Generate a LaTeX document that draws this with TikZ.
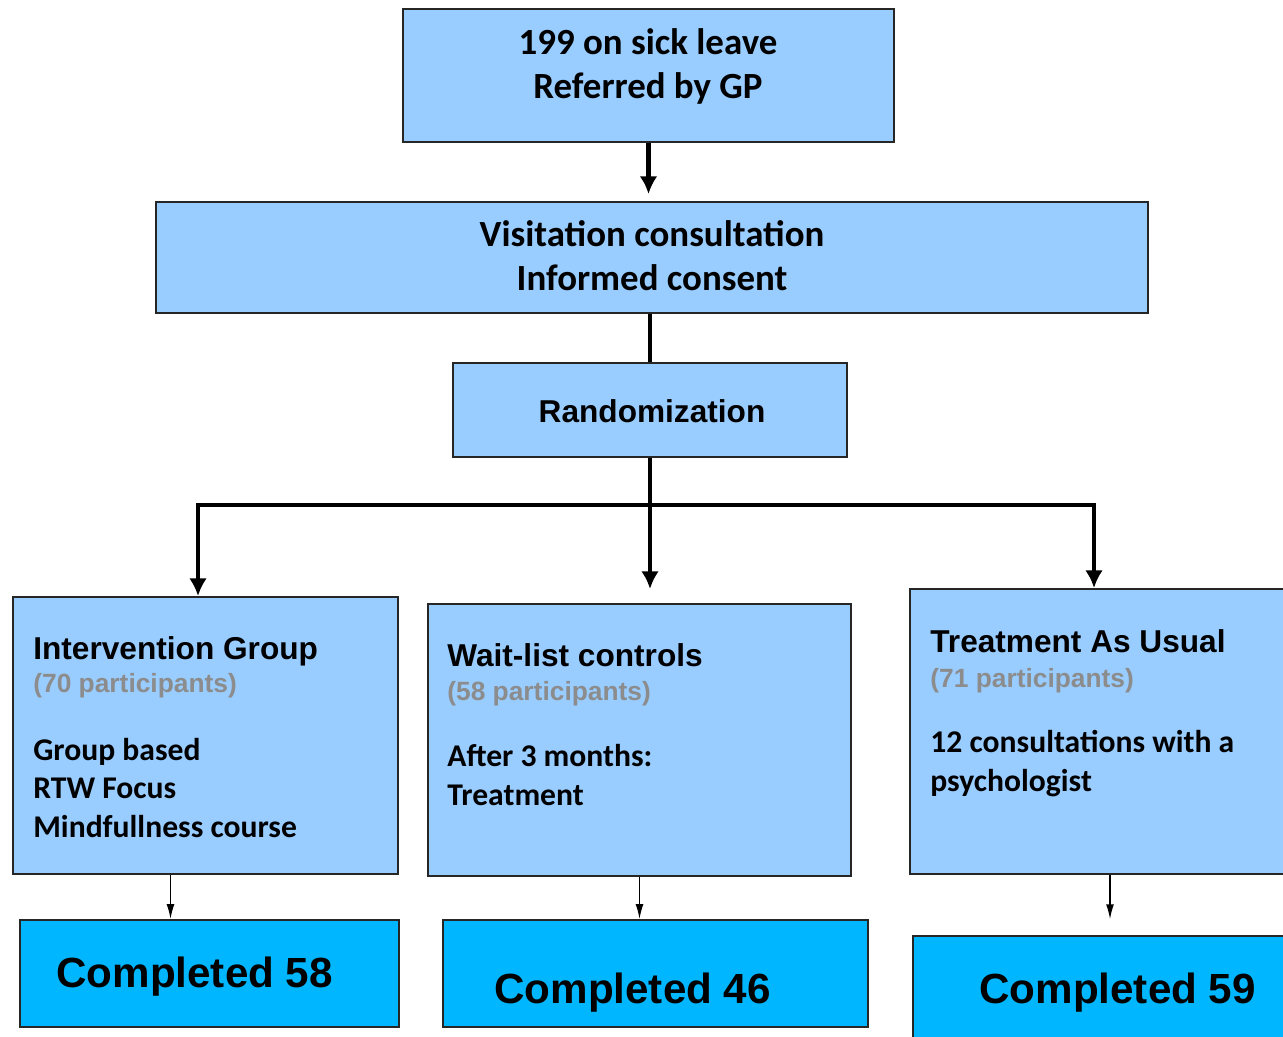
\documentclass[tikz,border=0pt]{standalone}
\usepackage{fontspec}
\setmainfont{Carlito}
\newfontfamily\arialfont{Liberation Sans}
\usetikzlibrary{positioning,fit,arrows.meta}
\definecolor{boxblue}{HTML}{99CCFF}
\definecolor{doneblue}{HTML}{00B7FF}
\definecolor{countgray}{HTML}{8C8C8C}

\begin{document}
\begin{tikzpicture}[
		x=0.02cm, y=-0.02cm,
		ar/.style={->, >={Latex[length=10pt,width=10pt]}, line width=2.3pt},
		thinar/.style={->, >={Latex[length=8.5pt,width=4.5pt]}, line width=0.8pt},
		link/.style={line width=2.3pt},
		mybox/.style={draw=black!85, line width=1.1pt, fill=boxblue, inner sep=0pt},
		donebox/.style={mybox, fill=doneblue},
		toptext/.style={inner sep=0pt, anchor=base, align=center, font=\bfseries\fontsize{21}{25}\selectfont},
		rantext/.style={inner sep=0pt, anchor=base, font=\arialfont\bfseries\fontsize{18}{21}\selectfont},
		titletext/.style={inner sep=0pt, anchor=base west, font=\arialfont\bfseries\fontsize{18}{21}\selectfont},
		counttext/.style={inner sep=0pt, anchor=base west, text=countgray, font=\arialfont\bfseries\fontsize{15}{18}\selectfont},
		bodytext/.style={inner sep=0pt, anchor=base west, align=left, font=\bfseries\fontsize{18}{21.7}\selectfont},
		donetext/.style={inner sep=0pt, anchor=base west, font=\arialfont\bfseries\fontsize{24}{28}\selectfont}
	]
		\useasboundingbox (0,0) rectangle (1283,1036);

		\node[mybox, fit={(403,9) (894,142)}] (top) {};
		\node[mybox, fit={(156,202) (1148,313)}] (vis) {};
		\node[mybox, fit={(453,363) (847,457)}] (ran) {};
		\node[mybox, fit={(13,597) (398,874)}] (ig) {};
		\node[mybox, fit={(428,604) (851,876)}] (wl) {};
		\node[mybox, fit={(910,589) (1310,874)}] (tau) {};
		\node[donebox, fit={(20,920) (399,1027)}] (ig done) {};
		\node[donebox, fit={(443,920) (868,1027)}] (wl done) {};
		\node[donebox, fit={(913,936) (1310,1060)}] (tau done) {};

		\node[toptext] (top txt) at (648,98) {199 on sick leave\\Referred by GP};
		\node[toptext] (vis txt) at (652,290) {Visitation consultation\\Informed consent};
		\node[rantext] (ran txt) at (652,422) {Randomization};

		\node[titletext] (ig title) at (33,659) {Intervention Group};
		\node[counttext] (ig count) at (33,692) {(70 participants)};
		\node[bodytext] (ig body) at (33,837) {Group based\\RTW Focus\\Mindfullness course};

		\node[titletext] (wl title) at (447,666) {Wait-list controls};
		\node[counttext] (wl count) at (447,700) {(58 participants)};
		\node[bodytext] (wl body) at (447,805) {After 3 months:\\Treatment};

		\node[titletext] (tau title) at (930,652) {Treatment As Usual};
		\node[counttext] (tau count) at (930,687) {(71 participants)};
		\node[bodytext] (tau body) at (930,791) {12 consultations with a\\psychologist};

		\node[donetext] (ig done txt) at (56,987) {Completed 58};
		\node[donetext] (wl done txt) at (494,1003) {Completed 46};
		\node[donetext] (tau done txt) at (979,1003) {Completed 59};

		\coordinate (split) at (650,505);
		\draw[ar, shorten >=4pt] (top.south) -- (top.south |- vis.north);
		\draw[link] (ran.north |- vis.south) -- (ran.north);
		\draw[ar, shorten >=8pt] (ran.south) -- (ran.south |- wl.north);
		\draw[ar] (split) -| ([xshift=-0.15cm]ig.north);
		\draw[ar] (split) -| ([xshift=-0.32cm]tau.north);
		\draw[thinar] ([xshift=-0.7cm]ig.south) -- ([xshift=-0.7cm]ig.south |- ig done.north);
		\draw[thinar] (wl.south) -- (wl.south |- wl done.north);
		\draw[thinar, shorten >=9pt] (tau.south) -- (tau.south |- tau done.north);
	\end{tikzpicture}
\end{document}
